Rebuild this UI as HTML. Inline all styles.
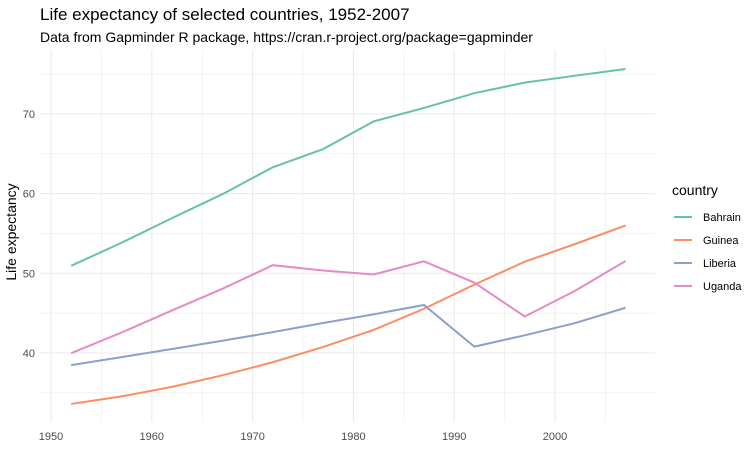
<!DOCTYPE html>
<html><head><meta charset="utf-8"><style>
body{margin:0;background:#fff;font-family:"Liberation Sans",Arial,sans-serif}
svg text{font-family:"Liberation Sans",Arial,sans-serif}
</style></head><body>
<svg id="chart" width="755" height="458" viewBox="0 0 755 458">
<text x="40" y="20" font-size="17" fill="#000">Life expectancy of selected countries, 1952-2007</text>
<text x="40" y="42" font-size="14" fill="#000">Data from Gapminder R package, https://cran.r-project.org/package=gapminder</text>
<g id="grid"></g><g id="axes"></g><g id="lines"></g>
<text transform="translate(16,232) rotate(-90)" text-anchor="middle" font-size="14" fill="#000">Life expectancy</text>
<g id="legend">
<text x="672" y="195" font-size="14" fill="#000">country</text>
</g>
</svg>
<script>
const years=[1952,1957,1962,1967,1972,1977,1982,1987,1992,1997,2002,2007];
const countries=["Bahrain","Guinea","Liberia","Uganda"];
const bahrain=[50.939,53.832,56.923,59.923,63.3,65.593,69.052,70.75,72.601,73.925,74.795,75.635];
const guinea=[33.609,34.558,35.753,37.197,38.842,40.762,42.891,45.552,48.576,51.455,53.676,56.007];
const liberia=[38.48,39.486,40.502,41.536,42.614,43.764,44.852,46.027,40.802,42.221,43.753,45.678];
const uganda=[39.978,42.571,45.344,48.051,51.016,50.35,49.849,51.509,48.825,44.578,47.813,51.542];
const xTicks=[1950,1960,1970,1980,1990,2000];
const yTicks=[40,50,60,70];
const colors=["#66C2A5","#FC8D62","#8DA0CB","#E78AC3"];
const series=[bahrain,guinea,liberia,uganda];
const NS="http://www.w3.org/2000/svg";
const X=v=>51+(v-1950)*10.08;
const Y=v=>353-(v-40)*7.97;
const L=40,R=655,T=50,B=422;
function mk(tag,attrs,parent){const e=document.createElementNS(NS,tag);for(const k in attrs)e.setAttribute(k,attrs[k]);document.getElementById(parent).appendChild(e);return e;}
for(let v=1950;v<=2005;v+=5){
 const g=mk("line",{x1:X(v),x2:X(v),y1:T,y2:B,stroke:"#ebebeb","stroke-width":v%10?0.6:1.1},"grid");
 
 
}
for(let v=35;v<=75;v+=5){
 const g=mk("line",{x1:L,x2:R,y1:Y(v),y2:Y(v),stroke:"#ebebeb","stroke-width":v%10?0.6:1.1},"grid");
 
 
}
xTicks.forEach(v=>{
 const t=mk("text",{x:X(v),y:440,"text-anchor":"middle","font-size":11,fill:"#4d4d4d"},"axes");t.textContent=v;
 
 
});
yTicks.forEach(v=>{
 const t=mk("text",{x:35,y:Y(v)+4,"text-anchor":"end","font-size":11,fill:"#4d4d4d"},"axes");t.textContent=v;
 
 
});
series.forEach((s,i)=>{
 const p=mk("polyline",{points:s.map((v,j)=>X(years[j])+","+Y(v)).join(" "),fill:"none",stroke:colors[i],"stroke-width":2},"lines");
 
 
 const ly=217+i*23;
 const k=mk("line",{x1:674,x2:692,y1:ly,y2:ly,stroke:colors[i],"stroke-width":2},"legend");
 
 
 const t=mk("text",{x:703,y:ly+4,"font-size":11,fill:"#000"},"legend");t.textContent=countries[i];
 
 
});
</script>
</body></html>
